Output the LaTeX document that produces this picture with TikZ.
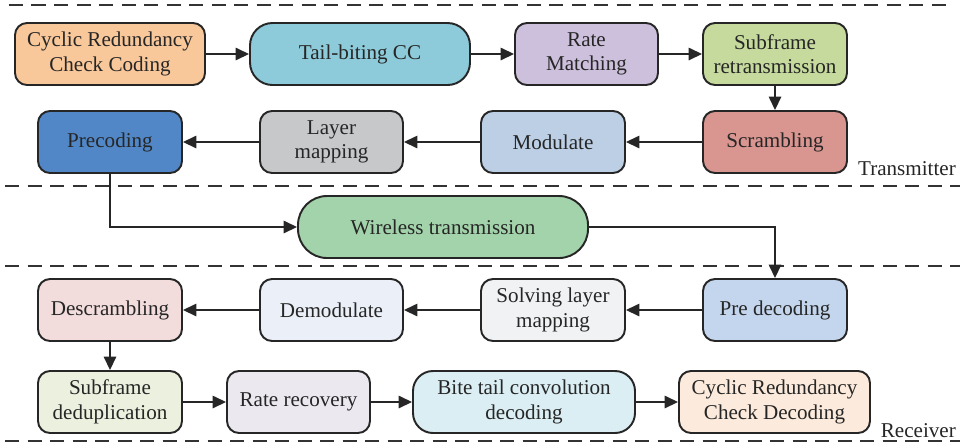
\documentclass[tikz,border=0pt]{standalone}
\usepackage{fontspec}
\setmainfont{Liberation Serif}
\usepackage{xcolor}
\usetikzlibrary{arrows.meta}

% Couleurs des blocs
\definecolor{cOrange}{HTML}{F8C79A}
\definecolor{cCyan}{HTML}{8ECBDA}
\definecolor{cLavande}{HTML}{CDC0DC}
\definecolor{cVert}{HTML}{C5DA9C}
\definecolor{cRose}{HTML}{D99590}
\definecolor{cBleuClair}{HTML}{BCCFE5}
\definecolor{cGris}{HTML}{C7C8CA}
\definecolor{cBleu}{HTML}{5187C7}
\definecolor{cVertSans}{HTML}{A3D3AA}
\definecolor{cPreDec}{HTML}{C4D6EE}
\definecolor{cSolv}{HTML}{F1F2F4}
\definecolor{cDemod}{HTML}{EAEFF8}
\definecolor{cDescr}{HTML}{F2DCDC}
\definecolor{cDedup}{HTML}{EBF1DE}
\definecolor{cRateRec}{HTML}{ECE8F0}
\definecolor{cBite}{HTML}{DAEEF3}
\definecolor{cCrcDec}{HTML}{FCEBDC}

\tikzset{
  bloc/.style={draw=black!85, line width=1.1pt, rounded corners=0.24cm,
    minimum width=2.88cm, minimum height=1.24cm, align=center,
    font=\fontsize{12}{14}\selectfont, text=black!85},
  fleche/.style={-{Triangle[length=0.27cm,width=0.25cm]}, line width=0.9pt, black!85},
  separation/.style={line width=1.1pt, black!80, dash pattern=on 0.28cm off 0.17cm}
}

\begin{document}
\begin{tikzpicture}

    \useasboundingbox (0,0) rectangle (19.26,-8.94);

    % Lignes de séparation
    \draw[separation] (0.18,-0.1) -- (19.0,-0.1);
    \draw[separation] (0.1,-3.72) -- (19.2,-3.72);
    \draw[separation] (0.1,-5.32) -- (19.2,-5.32);
    \draw[separation] (0.1,-8.82) -- (19.2,-8.82);

    % --- Émetteur ---
    \node[bloc, fill=cOrange, minimum width=3.8cm] (crc) at (2.2,-1.08) {Cyclic Redundancy\\Check Coding};
    \node[bloc, fill=cCyan, minimum width=4.4cm, rounded corners=0.45cm] (tbcc) at (7.2,-1.08) {Tail-biting CC};
    \node[bloc, fill=cLavande, minimum width=2.86cm] (rm) at (11.73,-1.08) {Rate\\Matching};
    \node[bloc, fill=cVert] (sfr) at (15.5,-1.08) {Subframe\\retransmission};
    \node[bloc, fill=cRose] (scr) at (15.5,-2.84) {Scrambling};
    \node[bloc, fill=cBleuClair] (mod) at (11.06,-2.84) {Modulate};
    \node[bloc, fill=cGris, minimum width=2.86cm] (lay) at (6.63,-2.84) {Layer\\mapping};
    \node[bloc, fill=cBleu] (pre) at (2.2,-2.84) {Precoding};
    \node[anchor=base east, font=\fontsize{12}{14}\selectfont, text=black!85] (tx) at (19.24,-3.5) {Transmitter};

    % --- Canal ---
    \node[bloc, fill=cVertSans, minimum width=5.8cm, rounded corners=0.58cm] (wire) at (8.86,-4.54) {Wireless transmission};

    % --- Récepteur ---
    \node[bloc, fill=cPreDec] (pdec) at (15.5,-6.2) {Pre decoding};
    \node[bloc, fill=cSolv] (slm) at (11.06,-6.2) {Solving layer\\mapping};
    \node[bloc, fill=cDemod, minimum width=2.86cm] (dem) at (6.63,-6.2) {Demodulate};
    \node[bloc, fill=cDescr] (des) at (2.2,-6.2) {Descrambling};
    \node[bloc, fill=cDedup] (sfd) at (2.2,-8.04) {Subframe\\deduplication};
    \node[bloc, fill=cRateRec, minimum width=2.86cm] (rr) at (5.97,-8.04) {Rate recovery};
    \node[bloc, fill=cBite, minimum width=4.44cm, rounded corners=0.4cm] (btc) at (10.48,-8.04) {Bite tail convolution\\decoding};
    \node[bloc, fill=cCrcDec, minimum width=3.82cm] (crcd) at (15.49,-8.04) {Cyclic Redundancy\\Check Decoding};
    \node[anchor=base east, font=\fontsize{12}{14}\selectfont, text=black!85] (rx) at (19.24,-8.74) {Receiver};

    % Flèches de l'émetteur
    \draw[fleche] (crc) -- (tbcc);
    \draw[fleche] (tbcc) -- (rm);
    \draw[fleche] (rm) -- (sfr);
    \draw[fleche] (sfr) -- (scr);
    \draw[fleche] (scr) -- (mod);
    \draw[fleche] (mod) -- (lay);
    \draw[fleche] (lay) -- (pre);

    % Passage par le canal
    \draw[fleche] (pre) |- (wire);
    \draw[fleche] (wire) -| (pdec);

    % Flèches du récepteur
    \draw[fleche] (pdec) -- (slm);
    \draw[fleche] (slm) -- (dem);
    \draw[fleche] (dem) -- (des);
    \draw[fleche] (des) -- (sfd);
    \draw[fleche] (sfd) -- (rr);
    \draw[fleche] (rr) -- (btc);
    \draw[fleche] (btc) -- (crcd);

\end{tikzpicture}
\end{document}
